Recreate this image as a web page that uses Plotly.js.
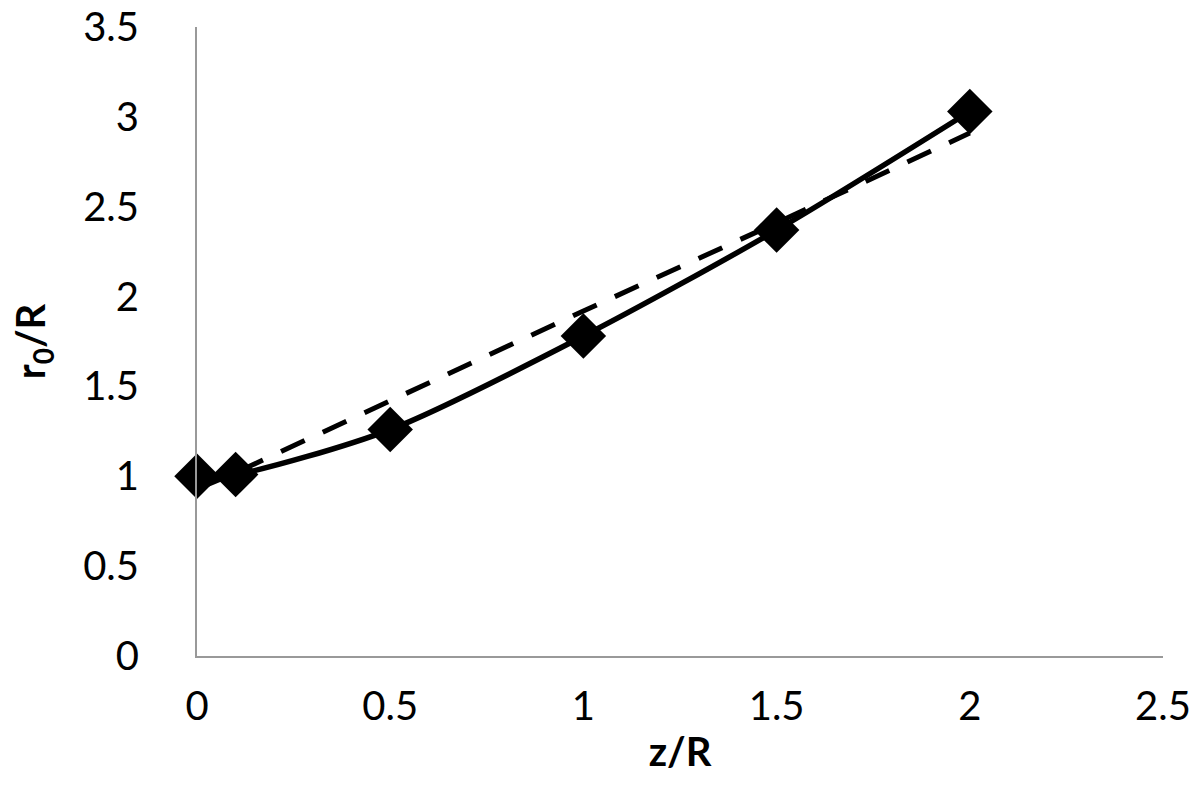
<!DOCTYPE html>
<html>
<head>
<meta charset="utf-8">
<script src="https://cdn.plot.ly/plotly-3.0.1.min.js"></script>
<style>
  body { margin: 0; background: #fff; }
  #plot { width: 1200px; height: 811px; }
</style>
</head>
<body>
<div id="plot"></div>
<script>
// data
let zr = [0, 0.1, 0.5, 1, 1.5, 2];
let r0Measured = [1.0, 1.01, 1.26, 1.78, 2.37, 3.03];
let zrFit = [0, 0.1, 0.5, 1, 1.5, 2];
let r0Fit = [0.93, 1.02, 1.42, 1.92, 2.41, 2.91];

let xTicks = [0, 0.5, 1, 1.5, 2, 2.5];
let xTickText = ['0', '0.5', '1', '1.5', '2', '2.5'];
let yTicks = [0, 0.5, 1, 1.5, 2, 2.5, 3, 3.5];
let yTickText = ['0', '0.5', '1', '1.5', '2', '2.5', '3', '3.5'];

let fontFam = 'Lato, "Open Sans", sans-serif';

let traces = [
  {
    x: zrFit,
    y: r0Fit,
    mode: 'lines',
    type: 'scatter',
    cliponaxis: false,
    line: {color: '#000', width: 5, dash: '26px,20px'},
    hoverinfo: 'skip'
  },
  {
    x: zr,
    y: r0Measured,
    mode: 'lines+markers',
    type: 'scatter',
    cliponaxis: false,
    line: {color: '#000', width: 5.5, shape: 'spline', smoothing: 0.8},
    marker: {symbol: 'diamond', size: 35, color: '#000'}
  }
];

let layout = {
  width: 1200,
  height: 811,
  margin: {l: 197, r: 37, t: 27, b: 155},
  showlegend: false,
  paper_bgcolor: '#fff',
  plot_bgcolor: '#fff',
  font: {family: fontFam, color: '#000', size: 40},
  xaxis: {
    range: [0, 2.5],
    tickvals: xTicks,
    ticktext: xTickText,
    showgrid: false,
    zeroline: false,
    showline: true,
    linecolor: '#999',
    linewidth: 2,
    ticks: '',
    ticklabelstandoff: 14,
    ticklabeloverflow: 'allow',
    tickfont: {family: fontFam, size: 40, color: '#000'},
    title: {text: '<b>z/R</b>', font: {family: fontFam, size: 40, color: '#000'}, standoff: 10}
  },
  yaxis: {
    range: [0, 3.5],
    tickvals: yTicks,
    ticktext: yTickText,
    showgrid: false,
    zeroline: false,
    showline: true,
    linecolor: '#999',
    linewidth: 2,
    ticks: '',
    ticklabelstandoff: 48,
    ticklabeloverflow: 'allow',
    tickfont: {family: fontFam, size: 40, color: '#000'},
    title: {text: '<b>r<sub>0</sub>/R</b>', font: {family: fontFam, size: 40, color: '#000'}, standoff: 25}
  }
};

Plotly.newPlot('plot', traces, layout, {displayModeBar: false, staticPlot: true});
</script>
</body>
</html>
